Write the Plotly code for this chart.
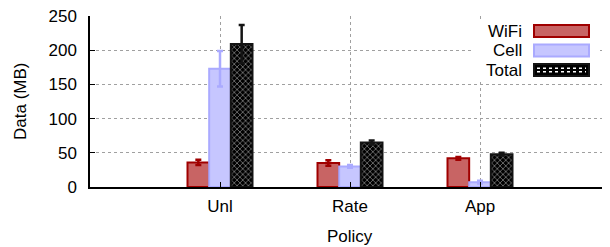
import plotly.graph_objects as go

categories = ["Unl", "Rate", "App"]
wifi = [36, 35, 42]
wifi_err = [4, 4, 2]
cell = [173, 30, 7]
cell_err = [26, 2, 2]
total = [209, 65, 48]
total_err = [28, 3, 2]
yticks = [0, 50, 100, 150, 200, 250]

FONT = "Liberation Sans, Arial, sans-serif"
FS = 17
xpos = list(range(len(categories)))

OFF = 8                       # page body margin
FIG_W, FIG_H = 610 - OFF, 247 - OFF
L, T, W, H = 90, 16, 520, 171   # plot area in window px


def px(x):
    return (x - L) / W


def py(y):
    return (T + H - y) / H


fig = go.Figure()
fig.add_trace(go.Bar(
    x=xpos, y=wifi, name="WiFi",
    marker=dict(color="rgb(200,100,100)", line=dict(color="rgb(160,0,0)", width=2)),
    error_y=dict(type="data", array=wifi_err, color="rgb(160,0,0)", thickness=2.5, width=3),
))
fig.add_trace(go.Bar(
    x=xpos, y=cell, name="Cell",
    marker=dict(color="rgb(198,198,255)", line=dict(color="rgb(170,170,255)", width=2)),
    error_y=dict(type="data", array=cell_err, color="rgb(170,170,255)", thickness=2.5, width=3),
))
fig.add_trace(go.Bar(
    x=xpos, y=total, name="Total",
    marker=dict(color="black", line=dict(color="rgb(20,20,20)", width=2),
                pattern=dict(shape="x", fgcolor="white", bgcolor="black", size=4, solidity=0.35)),
    error_y=dict(type="data", array=total_err, color="rgb(20,20,20)", thickness=2.5, width=3),
))

# custom legend (text left of swatch)
legend_items = [
    ("WiFi", "rgb(200,100,100)", "rgb(160,0,0)"),
    ("Cell", "rgb(198,198,255)", "rgb(170,170,255)"),
    ("Total", "black", "rgb(20,20,20)"),
]
shapes = [dict(type="rect", xref="paper", yref="paper",
               x0=px(474), x1=px(598), y0=py(82), y1=py(20),
               fillcolor="white", line=dict(width=0), layer="above")]
annotations = []
for i, (name, fill, border) in enumerate(legend_items):
    yc = 31 + i * 19.5
    shapes.append(dict(type="rect", xref="paper", yref="paper",
                       x0=px(534), x1=px(589), y0=py(yc + 6), y1=py(yc - 6),
                       fillcolor=fill, line=dict(color=border, width=2), layer="above"))
    if name == "Total":
        for dy in (-1.8, 1.8):
            shapes.append(dict(type="line", xref="paper", yref="paper",
                               x0=px(537), x1=px(586), y0=py(yc + dy), y1=py(yc + dy),
                               line=dict(color="white", width=1.6, dash="dot"), layer="above"))
    annotations.append(dict(text=name, xref="paper", yref="paper",
                            x=px(524), y=py(yc),
                            xanchor="right", yanchor="middle", showarrow=False,
                            font=dict(family=FONT, size=FS, color="black")))

# axis titles
annotations.append(dict(text="Policy", xref="paper", yref="paper", x=px(350), y=py(236),
                        xanchor="center", yanchor="middle", showarrow=False,
                        font=dict(family=FONT, size=FS, color="black")))
annotations.append(dict(text="Data (MB)", xref="paper", yref="paper", x=px(20), y=py(102),
                        xanchor="center", yanchor="middle", showarrow=False, textangle=-90,
                        font=dict(family=FONT, size=FS, color="black")))

fig.update_layout(
    width=FIG_W, height=FIG_H,
    margin=dict(l=L - OFF, r=FIG_W - (L - OFF) - W, t=T - OFF, b=FIG_H - (T - OFF) - H, pad=0),
    paper_bgcolor="white", plot_bgcolor="white",
    barmode="group", bargap=0.5, bargroupgap=0,
    showlegend=False,
    font=dict(family=FONT, size=FS, color="black"),
    shapes=shapes, annotations=annotations,
)
fig.update_xaxes(
    range=[-1, 3], tickmode="array", tickvals=xpos, ticktext=categories,
    showline=True, linecolor="black", linewidth=1.5,
    showgrid=True, gridcolor="rgb(160,160,160)", griddash="dot", gridwidth=1,
    ticks="inside", ticklen=5, tickcolor="black", zeroline=False,
    automargin=False, ticklabelstandoff=3, ticklabeloverflow="allow",
    tickfont=dict(family=FONT, size=FS),
)
fig.update_yaxes(
    range=[0, 250], tickmode="array", tickvals=yticks,
    showline=True, linecolor="black", linewidth=1.5,
    showgrid=True, gridcolor="rgb(160,160,160)", griddash="dot", gridwidth=1,
    ticks="inside", ticklen=5, tickcolor="black", zeroline=False,
    automargin=False, ticklabelstandoff=8, ticklabeloverflow="allow",
    tickfont=dict(family=FONT, size=FS),
)

fig.write_html("out.html")
